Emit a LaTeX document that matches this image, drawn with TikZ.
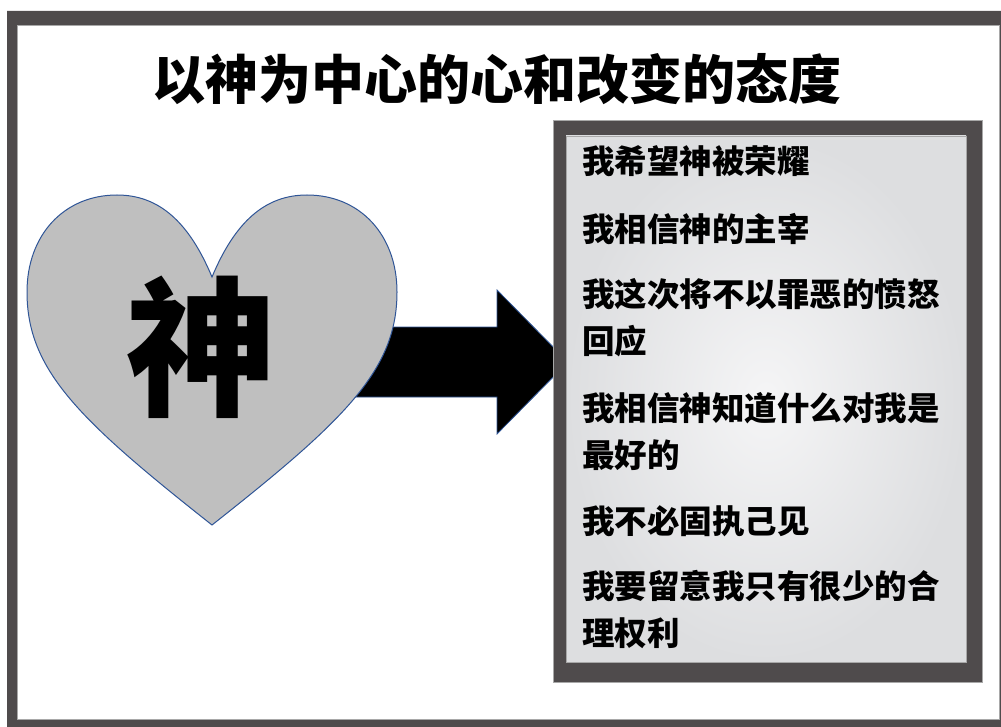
\documentclass[tikz,border=0pt]{standalone}
\usepackage{fontspec}
\newfontfamily\cjk{Noto Sans CJK SC}
\usepackage{tikz}
\definecolor{framegrey}{HTML}{4F4B4C}
\definecolor{edgegrey}{HTML}{A8A8A8}
\definecolor{heartgrey}{HTML}{BFBFBF}
\definecolor{heartblue}{HTML}{2F5597}
\definecolor{panelhi}{HTML}{F5F5F6}
\definecolor{panello}{HTML}{DDDEE0}

\begin{document}
\begin{tikzpicture}[x=1pt,y=-1pt,
    heart/.style={fill=heartgrey,draw=heartblue,line width=1pt},
    blockarrow/.style={fill=black,draw=heartblue,line width=0.8pt},
    headline/.style={font=\cjk\bfseries\fontsize{53}{60}\selectfont,inner sep=0pt},
    godchar/.style={font=\cjk\bfseries\fontsize{150}{160}\selectfont,inner sep=0pt},
    belief/.style={font=\cjk\bfseries\fontsize{32.5}{47}\selectfont,align=left,anchor=base west,inner sep=0pt}]
       \useasboundingbox (0,0) rectangle (1001,727);
       \clip (0,0) rectangle (1001,727);
       % frame
       \fill[framegrey,even odd rule] (7,11) rectangle (1012,740) (17,26) rectangle (999,719);
       \draw[edgegrey,line width=1pt] (17,26) rectangle (999,719);
       \node[headline] (title) at (497,79) {以神为中心的心和改变的态度};
       % arrow and heart
       \draw[blockarrow] (350,327) -- (497,327) -- (497,290) -- (568,362) -- (497,434) -- (497,397) -- (350,397) -- cycle;
       \draw[heart] (212,277)
          .. controls (235,222) and (265,195) .. (307,195)
          .. controls (360,195) and (397,235) .. (397,292)
          .. controls (397,370) and (345,420) .. (212,525)
          .. controls (79,420) and (27,370) .. (27,292)
          .. controls (27,235) and (64,195) .. (117,195)
          .. controls (159,195) and (189,222) .. (212,277) -- cycle;
       \node[godchar] (god) at (201,347) {神};
       % panel (two-line nodes sit on their last baseline)
       \fill[framegrey] (553,120) rectangle (982,682);
       \draw[edgegrey,line width=0.8pt] (553,120) rectangle (982,682);
       \shade[inner color=panelhi,outer color=panello] (566,136) rectangle (966,662);
       \draw[edgegrey,line width=0.8pt] (566,136) rectangle (966,662);
       \node[belief] (b1) at (582,174) {我希望神被荣耀};
       \node[belief] (b2) at (582,242) {我相信神的主宰};
       \node[belief] (b3) at (582,353) {我这次将不以罪恶的愤怒\\回应};
       \node[belief] (b4) at (582,467) {我相信神知道什么对我是\\最好的};
       \node[belief] (b5) at (582,533) {我不必固执己见};
       \node[belief] (b6) at (582,645) {我要留意我只有很少的合\\理权利};
\end{tikzpicture}
\end{document}
